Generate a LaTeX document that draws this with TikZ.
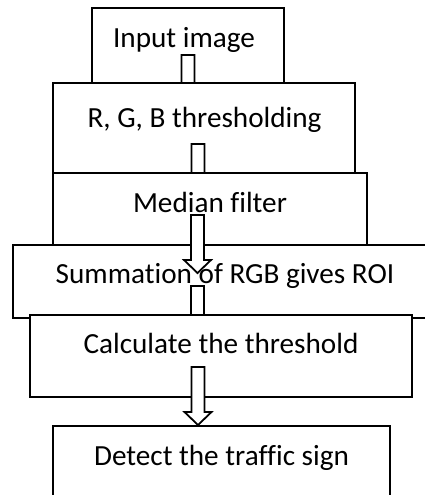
\documentclass[tikz,border=0pt]{standalone}
\usepackage{fontspec}
\setmainfont[Ligatures={NoCommon,NoDiscretionary}]{Carlito}
\usetikzlibrary{calc}
\tikzset{
  box/.style={draw=black, fill=white, line width=1.8pt, rectangle, inner sep=0pt},
  lbl/.style={anchor=base, inner sep=0pt, font=\fontsize{29.2}{35}\selectfont},
  barr/.style={draw=black, fill=white, line width=1.8pt, line join=miter}
}
\newcommand\blockarr[2]{%
  \draw[barr] let \p1=(#1), \p2=(#2) in
    (\x1-6.5pt,\y1) -- (\x1+6.5pt,\y1) -- (\x1+6.5pt,\y2+13pt) -- (\x1+13.5pt,\y2+13pt)
    -- (\x2,\y2) -- (\x1-13.5pt,\y2+13pt) -- (\x1-6.5pt,\y2+13pt) -- cycle;}
\begin{document}
\begin{tikzpicture}[x=1pt,y=-1pt]
\useasboundingbox (0,0) rectangle (425,495);
\clip (0,0) rectangle (425,495);
% box 1
\node[box, minimum width=192pt, minimum height=75pt] (b1) at (188,45.5) {};
\node[lbl] (t1) at (184,48) {Input image};
\coordinate (a1s) at (188,55);
\coordinate (a1e) at (188,105);
\blockarr{a1s}{a1e}
% box 2
\node[box, minimum width=302pt, minimum height=90pt] (b2) at (204,128) {};
\node[lbl] (t2) at (204.5,127) {R, G, B thresholding};
\coordinate (a2s) at (198,144);
\coordinate (a2e) at (198,195);
\blockarr{a2s}{a2e}
% box 3
\node[box, minimum width=314pt, minimum height=72pt] (b3) at (210,209) {};
\node[lbl] (t3) at (210,212) {Median filter};
% box 4
\node[box, minimum width=437pt, minimum height=73pt] (b4) at (231.5,281.5) {};
\node[lbl] (t4) at (225,283) {Summation of RGB gives ROI};
\coordinate (a3s) at (197.5,215);
\coordinate (a3e) at (197.5,273);
\blockarr{a3s}{a3e}
\coordinate (a4s) at (197.5,286);
\coordinate (a4e) at (197.5,340);
\blockarr{a4s}{a4e}
% box 5
\node[box, minimum width=382pt, minimum height=82pt] (b5) at (221,356) {};
\node[lbl] (t5) at (221,353) {Calculate the threshold};
\coordinate (a5s) at (198,367);
\coordinate (a5e) at (198,425);
\blockarr{a5s}{a5e}
% box 6
\node[box, minimum width=337pt, minimum height=90pt] (b6) at (221.5,471) {};
\node[lbl] (t6) at (221.5,465) {Detect the traffic sign};
\end{tikzpicture}
\end{document}
